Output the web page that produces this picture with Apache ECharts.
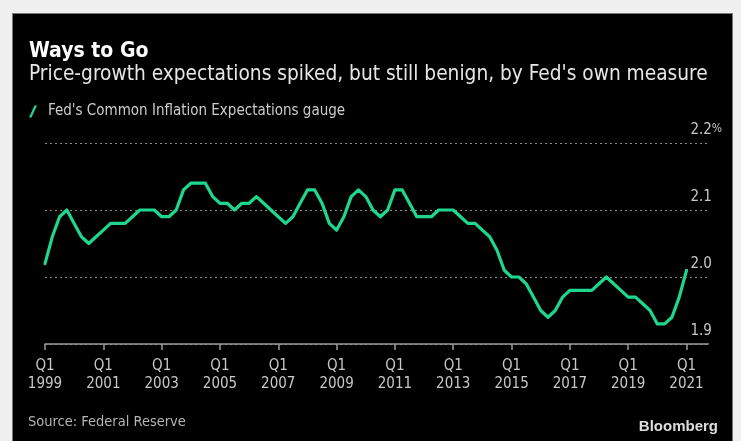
<!DOCTYPE html>
<html>
<head>
<meta charset="utf-8">
<script src="https://cdn.jsdelivr.net/npm/echarts@6/dist/echarts.min.js"></script>
<style>
html,body{margin:0;padding:0;background:#f0f0f0;width:741px;height:441px;overflow:hidden;}
#panel{position:absolute;left:12px;top:13px;width:721px;height:428px;background:#000;border:1px solid #777;border-bottom:none;box-sizing:border-box;}
#chart{position:absolute;left:0;top:0;width:741px;height:441px;}
</style>
</head>
<body>
<div id="panel"></div>
<div id="chart"></div>
<script>
// Data: Fed's Common Inflation Expectations (quarterly, 1999Q1 - 2021Q1)
var startYear = 1999;
var endYear = 2021;
var values = [
  2.02, 2.06, 2.09, 2.10,  // 1999
  2.08, 2.06, 2.05, 2.06,  // 2000
  2.07, 2.08, 2.08, 2.08,  // 2001
  2.09, 2.10, 2.10, 2.10,  // 2002
  2.09, 2.09, 2.10, 2.13,  // 2003
  2.14, 2.14, 2.14, 2.12,  // 2004
  2.11, 2.11, 2.10, 2.11,  // 2005
  2.11, 2.12, 2.11, 2.10,  // 2006
  2.09, 2.08, 2.09, 2.11,  // 2007
  2.13, 2.13, 2.11, 2.08,  // 2008
  2.07, 2.09, 2.12, 2.13,  // 2009
  2.12, 2.10, 2.09, 2.10,  // 2010
  2.13, 2.13, 2.11, 2.09,  // 2011
  2.09, 2.09, 2.10, 2.10,  // 2012
  2.10, 2.09, 2.08, 2.08,  // 2013
  2.07, 2.06, 2.04, 2.01,  // 2014
  2.00, 2.00, 1.99, 1.97,  // 2015
  1.95, 1.94, 1.95, 1.97,  // 2016
  1.98, 1.98, 1.98, 1.98,  // 2017
  1.99, 2.00, 1.99, 1.98,  // 2018
  1.97, 1.97, 1.96, 1.95,  // 2019
  1.93, 1.93, 1.94, 1.97,  // 2020
  2.01                     // 2021
];
var yTicks = [1.9, 2.0, 2.1, 2.2];
var seriesName = "Fed's Common Inflation Expectations gauge";

var categories = [];
for (var y = startYear; y <= endYear; y++) {
  for (var q = 1; q <= 4; q++) categories.push('Q' + q + '\n' + y);
}

var FONT = '"DejaVu Sans Condensed", "Liberation Sans Narrow", sans-serif';
var chart = echarts.init(document.getElementById('chart'), null, {renderer: 'canvas'});
chart.setOption({
  backgroundColor: 'transparent',
  animation: false,
  title: [
    {text: 'Ways to Go', left: 24, top: 36,
     textStyle: {color: '#ffffff', fontSize: 21, fontWeight: 'bold', fontFamily: FONT}},
    {text: "Price-growth expectations spiked, but still benign, by Fed's own measure", left: 24, top: 59,
     textStyle: {color: '#e6e6e6', fontSize: 20.7, fontWeight: 'normal', fontFamily: FONT}},
    {text: 'Source: Federal Reserve', left: 23, top: 410,
     textStyle: {color: '#b4b4b4', fontSize: 14.5, fontWeight: 'normal', fontFamily: FONT}},
    {text: 'Bloomberg', right: 18, top: 414,
     textStyle: {color: '#dddddd', fontSize: 15, fontWeight: 'bold', fontFamily: 'Liberation Sans, Arial, sans-serif'}}
  ],
  legend: {
    left: 24, top: 99, itemWidth: 8, itemHeight: 12, itemGap: 10,
    icon: 'path://M0,12 L5.5,0 L8,0 L2.5,12 Z',
    textStyle: {color: '#cccccc', fontSize: 15, fontFamily: FONT, padding: [0, 0, 0, 6]},
    data: [{name: seriesName, itemStyle: {color: '#1fd68f'}}]
  },
  grid: {left: 45, right: 32.6, top: 143, bottom: 97, containLabel: false},
  xAxis: {
    type: 'category',
    data: categories,
    boundaryGap: false,
    axisLine: {lineStyle: {color: '#9a9a9a', width: 1.5}},
    axisTick: {alignWithLabel: true, length: 6, lineStyle: {color: '#9a9a9a', width: 1.5},
      interval: function (i) { return i % 8 === 0; }},
    axisLabel: {
      interval: function (i) { return i % 8 === 0; },
      color: '#c8c8c8', fontSize: 15, fontFamily: FONT, lineHeight: 18, margin: 13
    },
    splitLine: {show: false}
  },
  yAxis: {
    type: 'value',
    position: 'right',
    min: 1.9, max: 2.2, interval: 0.1,
    axisLine: {show: false},
    axisTick: {show: false},
    axisLabel: {
      margin: -18, align: 'left', verticalAlign: 'bottom',
      padding: [0, 0, 5, 0],
      color: '#c8c8c8', fontSize: 15, fontFamily: FONT,
      formatter: function (v) {
        var s = v.toFixed(1);
        return Math.abs(v - 2.2) < 1e-6 ? s + '{p|%}' : s;
      },
      rich: {p: {fontSize: 12, color: '#c8c8c8', fontFamily: FONT, verticalAlign: 'top', padding: [0, 0, 3, 0]}}
    },
    splitLine: {show: true, lineStyle: {color: '#8a8a8a', type: [2, 3], width: 1}}
  },
  series: [{
    name: seriesName,
    type: 'line',
    data: values,
    showSymbol: false,
    symbol: 'none',
    lineStyle: {color: '#1fd68f', width: 3.2, join: 'round', cap: 'round'},
    itemStyle: {color: '#1fd68f'}
  }]
});
</script>
</body>
</html>
